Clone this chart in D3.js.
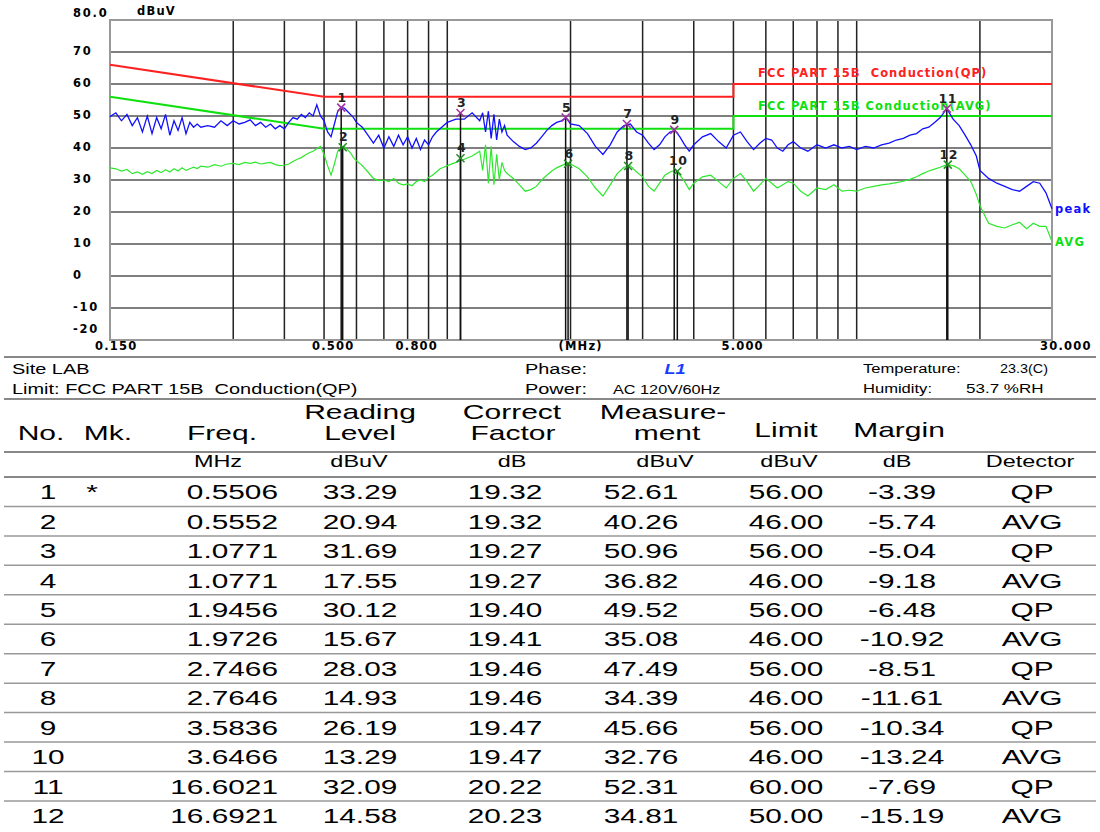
<!DOCTYPE html>
<html>
<head>
<meta charset="utf-8">
<script src="https://cdn.jsdelivr.net/npm/d3@7"></script>
<style>
  body { margin: 0; background: #fff; }
  svg { display: block; }
  .ax { font-family: "DejaVu Sans", Verdana, sans-serif; font-weight: bold; font-size: 11.5px; letter-spacing: 1.2px; }
  .info { font-family: "Liberation Sans", Arial, sans-serif; }
</style>
</head>
<body>
<svg width="1100" height="832"></svg>
<script>
// sweep frequencies (MHz)
var freqs = [0.150, 0.155, 0.160, 0.165, 0.170, 0.175, 0.180, 0.185, 0.190, 0.195,
  0.200, 0.205, 0.210, 0.215, 0.220, 0.225, 0.230, 0.235, 0.240, 0.245, 0.250,
  0.26, 0.27, 0.28, 0.29, 0.30, 0.31, 0.32, 0.33, 0.34, 0.35, 0.36, 0.37, 0.38, 0.39,
  0.40, 0.41, 0.42, 0.43, 0.44, 0.45, 0.46, 0.47, 0.48, 0.49, 0.50,
  0.51, 0.52, 0.53, 0.54, 0.55, 0.56, 0.57, 0.58, 0.59, 0.60,
  0.62, 0.64, 0.66, 0.68, 0.70, 0.72, 0.74, 0.76, 0.78, 0.80, 0.82, 0.84, 0.86, 0.88,
  0.90, 0.92, 0.94, 0.96, 0.98, 1.00,
  1.05, 1.10, 1.15, 1.20, 1.22, 1.24, 1.26, 1.28, 1.30, 1.32, 1.34, 1.36, 1.38, 1.40,
  1.45, 1.50, 1.55, 1.60, 1.65, 1.70, 1.75, 1.80, 1.85, 1.90, 1.95, 2.00,
  2.1, 2.2, 2.3, 2.4, 2.5, 2.6, 2.7, 2.8, 2.9, 3.0, 3.1, 3.2, 3.3, 3.4, 3.5, 3.6, 3.7,
  3.8, 3.9, 4.0, 4.2, 4.4, 4.6, 4.8, 5.0,
  5.2, 5.4, 5.6, 5.8, 6.0, 6.2, 6.4, 6.6, 6.8, 7.0, 7.3, 7.6, 8.0, 8.4, 8.8, 9.2, 9.6, 10,
  10.5, 11, 11.5, 12, 12.5, 13, 13.5, 14, 14.5, 15, 15.5, 16, 16.6, 17.2, 17.8, 18.4, 19, 19.6, 20,
  21, 22, 23, 24, 25, 26, 27, 28, 29, 30];

var peakLevels = [49.8, 51.0, 48.5, 50.5, 47.0, 49.5, 45.0, 50.0, 44.5, 49.5,
  46.0, 50.5, 44.0, 48.5, 45.5, 49.5, 44.5, 48.0, 46.5, 47.5, 46.5,
  47.0, 46.5, 48.5, 47.0, 48.5, 47.5, 48.0, 48.8, 47.0, 48.0, 46.5, 47.5, 46.0, 47.0,
  46.0, 48.0, 49.5, 49.0, 50.5, 49.5, 51.0, 50.0, 53.5, 50.0, 48.5,
  45.0, 43.5, 47.5, 51.5, 52.6, 52.5, 51.5, 50.5, 49.5, 48.0,
  46.5, 44.0, 41.5, 44.0, 40.0, 43.5, 40.5, 44.0, 41.0, 43.5, 40.0, 43.0, 39.5, 42.5,
  41.0, 43.5, 45.0, 46.0, 47.0, 48.0,
  49.0, 49.0, 51.0, 48.5, 51.0, 45.0, 51.5, 43.0, 50.5, 42.5, 49.0, 45.0, 47.0, 44.0,
  42.0, 40.5, 39.5, 40.0, 41.5, 43.5, 45.5, 47.0, 48.0, 48.5, 49.5, 47.5,
  47.0, 44.5, 40.5, 38.0, 41.0, 45.0, 47.0, 47.5, 45.0, 44.0, 41.5, 39.5, 41.0, 43.5, 45.0, 45.5, 43.5,
  41.0, 39.0, 41.0, 43.5, 44.5, 42.0, 40.0, 44.0,
  45.0, 42.0, 39.5, 41.5, 43.0, 42.5, 40.0, 39.0, 41.0, 42.0, 40.0, 39.0, 41.0, 40.0, 41.0, 40.0, 40.5, 39.5,
  40.5, 40.0, 41.0, 41.5, 42.5, 43.0, 44.0, 44.5, 46.0, 46.5, 48.0, 49.5, 52.3, 49.0, 47.0, 44.0, 41.0, 37.5, 33.0,
  30.5, 29.0, 28.0, 27.0, 26.5, 28.0, 29.5, 29.0, 26.0, 21.0];

var avgLevels = [33.8, 33.5, 32.8, 33.3, 32.0, 32.5, 31.8, 32.6, 32.0, 33.0,
  32.3, 33.2, 32.5, 33.5, 32.8, 33.8, 33.0, 33.5, 34.0, 33.6, 34.3,
  34.0, 34.8, 34.3, 35.0, 35.2, 34.8, 35.5, 35.2, 35.6, 35.0, 35.3, 35.5, 34.8, 34.5,
  34.6, 35.0, 35.8, 36.5, 37.0, 37.8, 38.5, 39.0, 39.8, 40.5, 38.0,
  34.5, 31.5, 35.0, 39.0, 40.3, 40.5, 39.5, 38.5, 37.0, 36.0,
  34.5, 32.5, 30.5, 29.8, 30.0, 29.5, 30.5, 29.0, 28.5, 28.8, 28.2, 29.5, 30.0, 29.5,
  30.8, 31.5, 32.5, 33.5, 34.0, 34.5,
  35.5, 36.5, 37.5, 39.0, 33.0, 41.0, 29.0, 40.5, 28.5, 38.0, 30.0, 35.5, 33.0, 32.0,
  30.5, 28.5, 26.5, 27.0, 28.0, 30.0, 31.5, 32.8, 33.8, 34.5, 35.1, 35.0,
  33.5, 31.0, 27.5, 25.0, 28.5, 32.0, 34.0, 34.4, 32.5, 31.0, 28.0, 26.5, 29.0, 31.5, 32.5, 33.0, 31.5,
  29.5, 27.0, 29.0, 31.0, 31.5, 29.5, 27.5, 30.5,
  32.0, 29.5, 26.5, 28.5, 30.5, 29.0, 27.5, 28.5, 29.5, 29.0, 26.5, 25.0, 27.5, 27.0, 28.5, 26.5, 26.8, 26.5,
  27.5, 28.0, 28.5, 28.8, 29.2, 29.6, 30.2, 31.0, 32.0, 32.8, 33.4, 34.0, 34.8, 34.5, 33.5, 31.5, 29.5, 25.5, 22.0,
  16.5, 15.5, 15.0, 16.0, 16.8, 14.8, 16.5, 15.5, 15.5, 10.8];

var qpLimit = [[0.15, 66], [0.5, 56], [5, 56], [5, 60], [30, 60]];
var avgLimit = [[0.15, 56], [0.5, 46], [5, 46], [5, 50], [30, 50]];

var yTicks = [80, 70, 60, 50, 40, 30, 20, 10, 0, -10, -20];
var xGrid = [0.3, 0.4, 0.5, 0.6, 0.7, 0.8, 0.9, 1, 2, 3, 4, 5, 6, 7, 8, 9, 10, 20];
var xLabels = [[0.15, "0.150"], [0.5, "0.500"], [0.8, "0.800"], [2, "(MHz)"], [5, "5.000"], [30, "30.000"]];

// marker table
var markerNo = [1, 2, 3, 4, 5, 6, 7, 8, 9, 10, 11, 12];
var markerMk = ["*", "", "", "", "", "", "", "", "", "", "", ""];
var markerFreq = ["0.5506", "0.5552", "1.0771", "1.0771", "1.9456", "1.9726", "2.7466", "2.7646", "3.5836", "3.6466", "16.6021", "16.6921"];
var readingLevel = ["33.29", "20.94", "31.69", "17.55", "30.12", "15.67", "28.03", "14.93", "26.19", "13.29", "32.09", "14.58"];
var correctFactor = ["19.32", "19.32", "19.27", "19.27", "19.40", "19.41", "19.46", "19.46", "19.47", "19.47", "20.22", "20.23"];
var measurement = ["52.61", "40.26", "50.96", "36.82", "49.52", "35.08", "47.49", "34.39", "45.66", "32.76", "52.31", "34.81"];
var limitVals = ["56.00", "46.00", "56.00", "46.00", "56.00", "46.00", "56.00", "46.00", "56.00", "46.00", "60.00", "50.00"];
var margin = ["-3.39", "-5.74", "-5.04", "-9.18", "-6.48", "-10.92", "-8.51", "-11.61", "-10.34", "-13.24", "-7.69", "-15.19"];
var detector = ["QP", "AVG", "QP", "AVG", "QP", "AVG", "QP", "AVG", "QP", "AVG", "QP", "AVG"];

document.addEventListener("DOMContentLoaded", function () {
  var svg = d3.select("svg");
  var x = d3.scaleLog().domain([0.15, 30]).range([110, 1052]);
  var y = d3.scaleLinear().domain([-20, 80]).range([340, 20]);

  var chart = svg.append("g");

  // grid
  chart.append("g").selectAll("line")
    .data(yTicks.slice(1, -1))
    .enter().append("line")
    .attr("x1", 110).attr("x2", 1052)
    .attr("y1", function (d) { return y(d) }).attr("y2", function (d) { return y(d) })
    .attr("stroke", "#555").attr("stroke-width", 1.5);

  chart.append("g").selectAll("line")
    .data(xGrid)
    .enter().append("line")
    .attr("x1", function (d) { return x(d) }).attr("x2", function (d) { return x(d) })
    .attr("y1", 20).attr("y2", 340)
    .attr("stroke", "#222").attr("stroke-width", 1.5);

  chart.append("rect")
    .attr("x", 110).attr("y", 20).attr("width", 942).attr("height", 320)
    .attr("fill", "none").attr("stroke", "#999").attr("stroke-width", 2);

  // y labels
  chart.append("g").selectAll("text")
    .data(yTicks)
    .enter().append("text")
    .attr("class", "ax")
    .style("letter-spacing", "1.8px")
    .attr("x", 73)
    .attr("y", function (d) {
      if (d === 80) return y(d) - 3;
      if (d === -20) return y(d) - 7;
      return y(d) + 3;
    })
    .text(function (d) { return d === 80 ? "80.0" : d });

  chart.append("text").attr("class", "ax").attr("x", 137).attr("y", 15).text("dBuV");

  chart.append("g").selectAll("text")
    .data(xLabels)
    .enter().append("text")
    .attr("class", "ax")
    .attr("x", function (d, i) { return x(d[0]) - (i === 0 ? 15 : 12) })
    .attr("y", 350)
    .text(function (d) { return d[1] });

  // limit lines
  var line = d3.line()
    .x(function (d) { return x(d[0]) })
    .y(function (d) { return y(d[1]) });

  chart.append("path").datum(qpLimit).attr("d", line)
    .attr("fill", "none").attr("stroke", "#ff2020").attr("stroke-width", 2);
  chart.append("path").datum(avgLimit).attr("d", line)
    .attr("fill", "none").attr("stroke", "#10e010").attr("stroke-width", 2);

  chart.append("text").attr("class", "ax").attr("x", 758).attr("y", 77)
    .style("letter-spacing", "1.05px")
    .attr("fill", "#ff2020").attr("xml:space", "preserve").text("FCC PART 15B  Conduction(QP)");
  chart.append("text").attr("class", "ax").attr("x", 758).attr("y", 110)
    .style("letter-spacing", "1.05px")
    .attr("fill", "#10e010").text("FCC PART 15B Conduction(AVG)");

  // traces
  var avgData = freqs.map(function (f, i) { return [f, avgLevels[i]] });
  var peakData = freqs.map(function (f, i) { return [f, peakLevels[i]] });

  chart.append("path").datum(avgData).attr("d", line)
    .attr("fill", "none").attr("stroke", "#2ee82e").attr("stroke-width", 1.2);
  chart.append("path").datum(peakData).attr("d", line)
    .attr("fill", "none").attr("stroke", "#1010ff").attr("stroke-width", 1.3);

  chart.append("text").attr("class", "ax").attr("x", 1055).attr("y", 213)
    .attr("fill", "#1010ff").text("peak");
  chart.append("text").attr("class", "ax").attr("x", 1055).attr("y", 246)
    .attr("fill", "#10e010").text("AVG");

  // markers
  var markers = markerNo.map(function (n, i) {
    return { n: n, f: +markerFreq[i], v: +measurement[i], qp: detector[i] === "QP" };
  });

  var mg = chart.append("g");
  mg.selectAll("line.stem")
    .data(markers)
    .enter().append("line")
    .attr("class", "stem")
    .attr("x1", function (d) { return x(d.f) }).attr("x2", function (d) { return x(d.f) })
    .attr("y1", function (d) { return y(d.v) }).attr("y2", 340)
    .attr("stroke", "#111").attr("stroke-width", 1.5);

  var cross = mg.selectAll("g.cross")
    .data(markers)
    .enter().append("g")
    .attr("class", "cross")
    .attr("transform", function (d) { return "translate(" + x(d.f) + "," + y(d.v) + ")" })
    .attr("stroke", function (d) { return d.qp ? "#a030a0" : "#208a20" })
    .attr("stroke-width", 1.5);
  cross.append("line").attr("x1", -4).attr("y1", -4).attr("x2", 4).attr("y2", 4);
  cross.append("line").attr("x1", -4).attr("y1", 4).attr("x2", 4).attr("y2", -4);

  mg.selectAll("text")
    .data(markers)
    .enter().append("text")
    .attr("class", "ax")
    .style("font-size", "12.5px")
    .style("letter-spacing", "0.5px")
    .attr("x", function (d) { return x(d.f) + 1 })
    .attr("y", function (d) { return y(d.v) - 6 })
    .attr("text-anchor", "middle")
    .attr("fill", "#222")
    .text(function (d) { return d.n });

  // info block
  var info = svg.append("g").attr("class", "info");
  function hline(yy) {
    info.append("line").attr("x1", 4).attr("x2", 1096).attr("y1", yy).attr("y2", yy)
      .attr("stroke", "#888").attr("stroke-width", 2);
  }
  hline(357);
  hline(399);
  hline(452);
  hline(477);

  function txt(xx, yy, s, size, anchor, sx) {
    return info.append("text")
      .attr("transform", "translate(" + xx + "," + yy + ") scale(" + (sx || 1) + ",1)")
      .attr("font-size", size)
      .attr("text-anchor", anchor || "start")
      .attr("xml:space", "preserve")
      .text(s);
  }
  var si = 1.33;
  txt(12, 374, "Site LAB", 15, "start", si);
  txt(12, 394, "Limit: FCC PART 15B  Conduction(QP)", 15, "start", si);
  txt(525, 374, "Phase:", 15, "start", si);
  txt(525, 394, "Power:", 15, "start", si);
  txt(675, 374, "L1", 15, "middle", 1.2).attr("fill", "#1a3cff").attr("font-weight", "bold").attr("font-style", "italic");
  txt(613, 394, "AC 120V/60Hz", 13, "start", 1.25);
  txt(863, 373, "Temperature:", 12, "start", 1.38);
  txt(1000, 373, "23.3(C)", 12, "start", 1.2);
  txt(863, 393, "Humidity:", 12, "start", 1.38);
  txt(966, 393, "53.7 %RH", 12, "start", 1.42);

  // table header
  var sx = 1.42;
  txt(41, 440, "No.", 20, "middle", 1.5);
  txt(108, 440, "Mk.", 20, "middle", 1.5);
  txt(222, 440, "Freq.", 20, "middle", 1.5);
  txt(360, 419, "Reading", 20, "middle", 1.5);
  txt(360, 440, "Level", 20, "middle", 1.5);
  txt(512, 419, "Correct", 20, "middle", 1.5);
  txt(513, 440, "Factor", 20, "middle", 1.5);
  txt(663, 419, "Measure-", 20, "middle", 1.5);
  txt(667, 440, "ment", 20, "middle", 1.5);
  txt(786, 437, "Limit", 20, "middle", 1.5);
  txt(899, 437, "Margin", 20, "middle", 1.5);

  txt(218, 467, "MHz", 16.5, "middle", sx);
  txt(359, 467, "dBuV", 16.5, "middle", sx);
  txt(512, 467, "dB", 16.5, "middle", sx);
  txt(665, 467, "dBuV", 16.5, "middle", sx);
  txt(789, 467, "dBuV", 16.5, "middle", sx);
  txt(897, 467, "dB", 16.5, "middle", sx);
  txt(1030, 467, "Detector", 16.5, "middle", sx);

  var rowH = 29.45;
  var cols = [
    [markerNo, 48, "middle"], [markerMk, 92, "middle"], [markerFreq, 278, "end"],
    [readingLevel, 360, "middle"], [correctFactor, 505, "middle"], [measurement, 641, "middle"],
    [limitVals, 786, "middle"], [margin, 902, "middle"], [detector, 1032, "middle"]
  ];
  markerNo.forEach(function (n, i) {
    var yy = 477 + (i + 0.5) * rowH + 7.5;
    cols.forEach(function (c) {
      txt(c[1], yy, c[0][i], 21, c[2], sx);
    });
    if (i < markerNo.length - 1) {
      info.append("line").attr("x1", 4).attr("x2", 1096)
        .attr("y1", 477 + (i + 1) * rowH).attr("y2", 477 + (i + 1) * rowH)
        .attr("stroke", "#999").attr("stroke-width", 1.5);
    }
  });
});
</script>
</body>
</html>
